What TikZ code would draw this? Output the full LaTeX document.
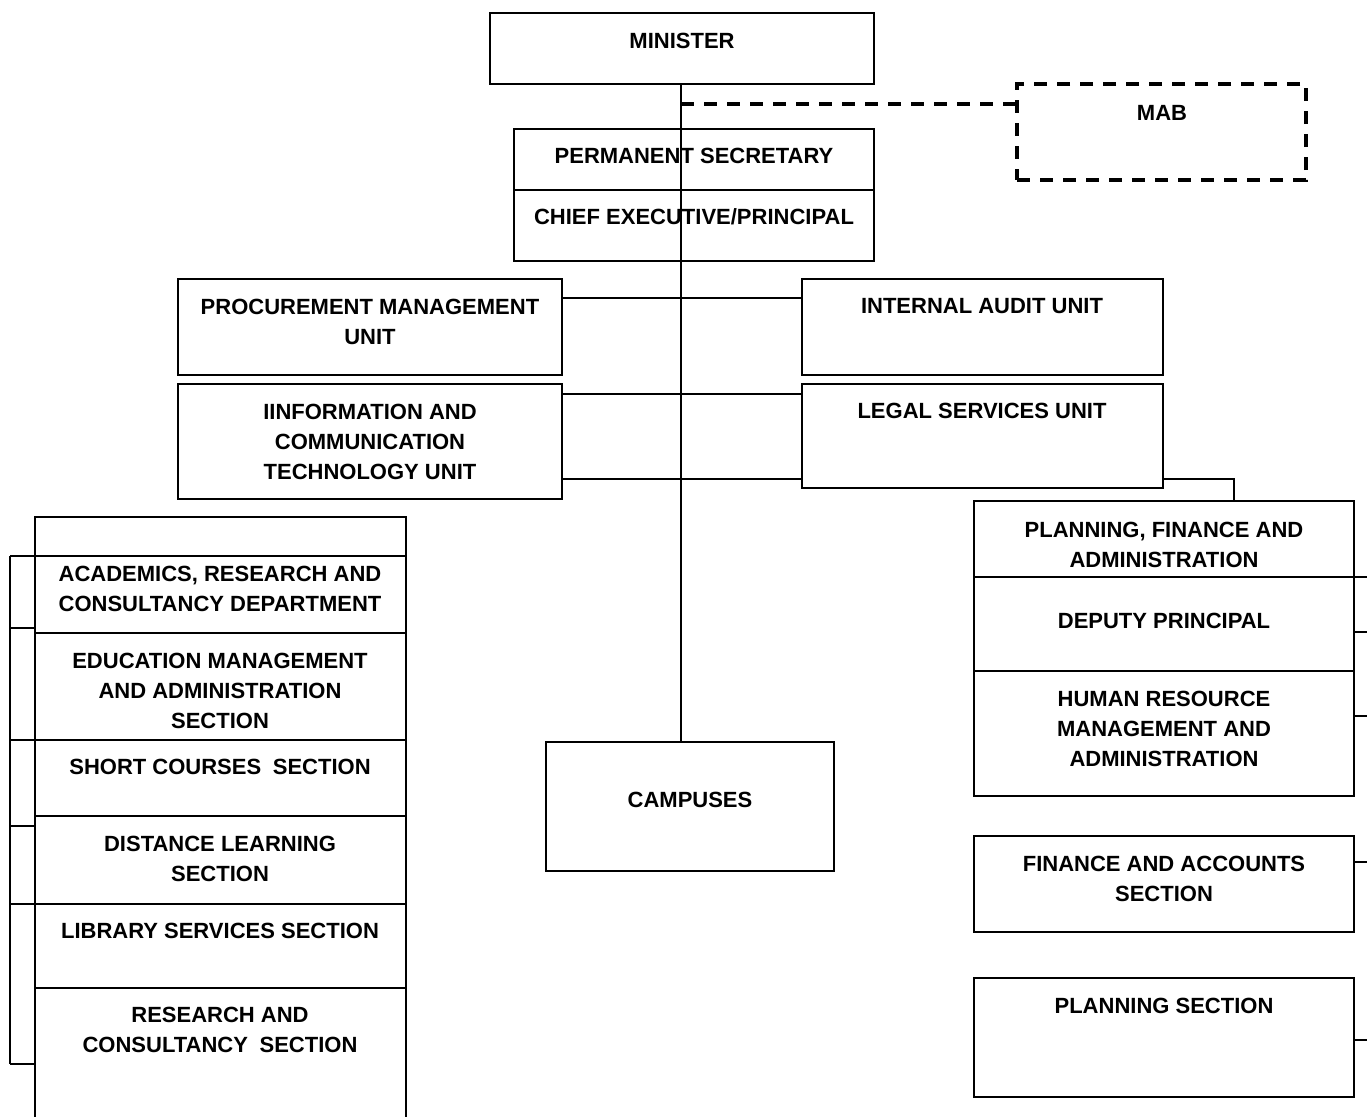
\documentclass[tikz,border=0pt]{standalone}
\usepackage{fontspec}
\setmainfont{Liberation Sans}
\begin{document}
\begin{tikzpicture}[x=1pt,y=-1pt,
  bx/.style 2 args={draw, line width=1.5pt, inner sep=0pt, outer sep=0pt, minimum width=#1pt, minimum height=#2pt},
  nobx/.style 2 args={inner sep=0pt, outer sep=0pt, minimum width=#1pt, minimum height=#2pt},
  txt/.style={font=\bfseries\fontsize{22}{30}\selectfont, align=center, inner sep=0pt},
  conn/.style={line width=1.3pt},
  dashconn/.style={line width=3.2pt, dash pattern=on 13pt off 10pt}]
\useasboundingbox[fill=white] (0,0) rectangle (1367,1117);

% top
\node[bx={384}{71}] (min) at (682,48.5) {};
\node[txt] (tmin) at (682,41) {MINISTER};
\node[bx={289}{96}, dashconn, draw] (mab) at (1161.5,132) {};
\node[txt] (tmab) at (1162,113) {MAB};
\node[bx={360}{61}] (ps) at (694,159.5) {};
\node[txt] (tps) at (694,156) {PERMANENT SECRETARY};
\node[bx={360}{71}] (ce) at (694,225.5) {};
\node[txt] (tce) at (694,217) {CHIEF EXECUTIVE/PRINCIPAL};

% units
\node[bx={384}{96}] (proc) at (370,327) {};
\node[txt] (tproc) at (370,321.5) {PROCUREMENT MANAGEMENT\\UNIT};
\node[bx={384}{115}] (ict) at (370,441.5) {};
\node[txt] (tict) at (370,441.5) {IINFORMATION AND\\COMMUNICATION\\TECHNOLOGY UNIT};
\node[bx={361}{96}] (ia) at (982.5,327) {};
\node[txt] (tia) at (982,306) {INTERNAL AUDIT UNIT};
\node[bx={361}{104}] (legal) at (982.5,436) {};
\node[txt] (tlegal) at (982,411) {LEGAL SERVICES UNIT};

% campuses
\node[bx={288}{129}] (camp) at (690,806.5) {};
\node[txt] (tcamp) at (690,800) {CAMPUSES};

% right column
\node[bx={380}{76}] (pfa) at (1164,539) {};
\node[txt] (tpfa) at (1164,544.5) {PLANNING, FINANCE AND\\ADMINISTRATION};
\node[bx={380}{94}] (dp) at (1164,624) {};
\node[txt] (tdp) at (1164,621) {DEPUTY PRINCIPAL};
\node[bx={380}{125}] (hr) at (1164,733.5) {};
\node[txt] (thr) at (1164,728.5) {HUMAN RESOURCE\\MANAGEMENT AND\\ADMINISTRATION};
\node[bx={380}{96}] (fin) at (1164,884) {};
\node[txt] (tfin) at (1164,878.5) {FINANCE AND ACCOUNTS\\SECTION};
\node[bx={380}{119}] (plan) at (1164,1037.5) {};
\node[txt] (tplan) at (1164,1006) {PLANNING SECTION};

% left column
\node[bx={371}{39}] (lhead) at (220.5,536.5) {};
\node[bx={371}{77}] (acad) at (220.5,594.5) {};
\node[txt] (tacad) at (220,589) {ACADEMICS, RESEARCH AND\\CONSULTANCY DEPARTMENT};
\node[bx={371}{107}] (edu) at (220.5,686.5) {};
\node[txt] (tedu) at (220,690.5) {EDUCATION MANAGEMENT\\AND ADMINISTRATION\\SECTION};
\node[bx={371}{76}] (short) at (220.5,778) {};
\node[txt] (tshort) at (220,767) {SHORT COURSES\hspace{0.25em} SECTION};
\node[bx={371}{88}] (dist) at (220.5,860) {};
\node[txt] (tdist) at (220,859) {DISTANCE LEARNING\\SECTION};
\node[bx={371}{84}] (lib) at (220.5,946) {};
\node[txt] (tlib) at (220,931) {LIBRARY SERVICES SECTION};
\node[nobx={371}{129}] (res) at (220.5,1052.5) {};
\node[txt] (tres) at (220,1030) {RESEARCH AND\\CONSULTANCY\hspace{0.25em} SECTION};
\draw[line width=1.5pt] (res.north west) -- (res.south west);
\draw[line width=1.5pt] (res.north east) -- (res.south east);

% spine
\coordinate (sp) at (681,0);
\draw[conn] (sp |- min.south) -- (sp |- camp.north);
\coordinate (dj) at (681,104);
\draw[dashconn] (dj) -- (dj -| mab.west);

% unit connectors
\coordinate (h1) at (0,298);
\coordinate (h2) at (0,394);
\coordinate (h3) at (0,479);
\draw[conn] (h1 -| proc.east) -- (h1 -| ia.west);
\draw[conn] (h2 -| ict.east) -- (h2 -| legal.west);
\draw[conn] (h3 -| ict.east) -- (h3 -| legal.west);
\coordinate (lp) at (1234,479);
\draw[conn] (lp -| legal.east) -- (lp) -- (lp |- pfa.north);

% left bracket
\coordinate (lb) at (10,0);
\coordinate (lb1) at (10,556);
\coordinate (lb2) at (10,628);
\coordinate (lb3) at (10,740);
\coordinate (lb4) at (10,826);
\coordinate (lb5) at (10,904);
\coordinate (lb6) at (10,1064);
\draw[conn] (lb1) -- (lb6);
\foreach \c in {lb1,lb2,lb3,lb4,lb5,lb6} \draw[conn] (\c) -- (\c -| acad.west);

% right ticks
\coordinate (rt) at (1367,0);
\foreach \y in {577,632,716,862,1040} \draw[conn] (1354,\y) -- (rt |- 0,\y);
\end{tikzpicture}
\end{document}
